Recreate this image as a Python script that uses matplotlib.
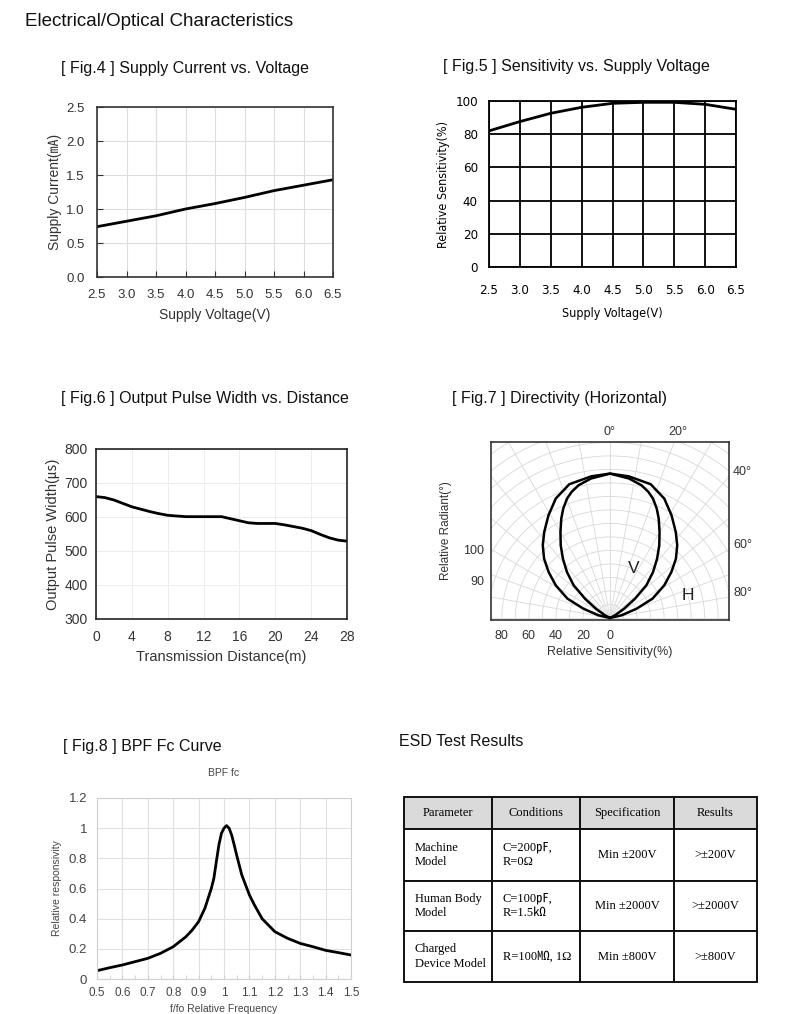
import numpy as np
import matplotlib
matplotlib.use("Agg")
import matplotlib.pyplot as plt
from matplotlib import font_manager as fm

# Fig.4 supply current
volt = [2.5, 3.0, 3.5, 4.0, 4.5, 5.0, 5.5, 6.0, 6.5]
current = [0.74, 0.82, 0.90, 1.00, 1.08, 1.17, 1.27, 1.35, 1.43]

# Fig.5 sensitivity
sens = [82, 87.6, 92.6, 96.2, 98.6, 99.2, 99.2, 98.0, 95.0]

# Fig.6 pulse width
dist = [0, 1, 2, 3, 4, 5, 6, 7, 8, 9, 10, 12, 14, 15, 16, 17, 18, 20, 21, 22, 23, 24, 25, 26, 27, 28]
pulse = [660, 657, 650, 640, 630, 623, 616, 610, 605, 603, 601, 601, 601, 595, 589, 583, 581, 581, 577, 572,
         567, 560, 549, 539, 532, 529]

# Fig.7 directivity (angle from axis in deg, radius)
v_ang = [0, 7.8, 13.3, 16.9, 19.8, 23.1, 26.1, 29.9, 34.1, 38.4, 43.1, 48.0, 52.3, 56.6, 61.9, 90]
v_rad = [106.9, 104.2, 101.0, 97.6, 93.9, 88.1, 81.9, 73.5, 65.0, 56.1, 46.6, 36.2, 23.4, 12.6, 4.2, 0]
h_ang = [0, 7.5, 16.9, 24.4, 30.9, 37.4, 42.7, 48.0, 53.1, 58.9, 65.5, 70.7, 77.1, 90]
h_rad = [106.9, 105.8, 103.5, 97.1, 88.6, 80.1, 73.3, 65.6, 56.8, 46.9, 34.6, 20.9, 8.9, 0]

# Fig.8 BPF
freq = [0.5, 0.55, 0.6, 0.65, 0.7, 0.75, 0.8, 0.85, 0.875, 0.9, 0.925, 0.95, 0.96, 0.97, 0.98, 0.99, 1.0,
        1.01, 1.02, 1.03, 1.04, 1.05, 1.07, 1.1, 1.12, 1.15, 1.2, 1.25, 1.3, 1.35, 1.4, 1.45, 1.5]
resp = [0.055, 0.075, 0.093, 0.115, 0.137, 0.17, 0.214, 0.28, 0.325, 0.38, 0.47, 0.60, 0.667, 0.78, 0.89,
        0.966, 1.0, 1.017, 1.0, 0.955, 0.89, 0.82, 0.69, 0.557, 0.49, 0.40, 0.314, 0.27, 0.236, 0.214, 0.19,
        0.175, 0.159]

# ESD table
esd_cols = ["Parameter", "Conditions", "Specification", "Results"]
esd_rows = [["Machine\nModel", "C=200㎊,\nR=0Ω", "Min ±200V", ">±200V"],
            ["Human Body\nModel", "C=100㎊,\nR=1.5㏀", "Min ±2000V", ">±2000V"],
            ["Charged\nDevice Model", "R=100㏁, 1Ω", "Min ±800V", ">±800V"]]

plt.rcParams['font.family'] = ['Liberation Sans', 'Noto Sans CJK KR', 'DejaVu Sans']
W, H = 800, 1014
fig = plt.figure(figsize=(W / 100, H / 100), dpi=100)

# narrow font for fig.5 if one is around
narrow_path = None
for fam in ['Liberation Sans Narrow', 'DejaVu Sans']:
    try:
        p = fm.findfont(fm.FontProperties(family=fam, stretch='condensed'), fallback_to_default=False)
    except Exception:
        continue
    if 'Narrow' in p or 'Condensed' in p:
        narrow_path = p
        break


def nfont(size):
    if narrow_path:
        return fm.FontProperties(fname=narrow_path, size=size)
    return fm.FontProperties(family='Liberation Sans', size=size - 0.5)


def box(l, t, r, b):
    return [l / W, 1 - b / H, (r - l) / W, (b - t) / H]


def ftext(x, y, s, **kw):
    fig.text(x / W, 1 - y / H, s, va='center', **kw)


dark = '#333333'
ftext(25, 22, "Electrical/Optical Characteristics", fontsize=13.5, color='#111111')
ftext(61, 69, "[ Fig.4 ] Supply Current vs. Voltage", fontsize=11.5, color='#111111')
ftext(443, 66, "[ Fig.5 ] Sensitivity vs. Supply Voltage", fontsize=11.5, color='#111111')
ftext(61, 398, "[ Fig.6 ] Output Pulse Width vs. Distance", fontsize=11.5, color='#111111')
ftext(452, 398, "[ Fig.7 ] Directivity (Horizontal)", fontsize=11.5, color='#111111')
ftext(63, 746, "[ Fig.8 ] BPF Fc Curve", fontsize=11.5, color='#111111')
ftext(399, 742, "ESD Test Results", fontsize=11.5, color='#111111')

# ---- Fig.4
ax4 = fig.add_axes(box(97, 107, 333, 277))
ax4.plot(volt, current, color='k', lw=2)
ax4.set_xlim(2.5, 6.5)
ax4.set_ylim(0, 2.5)
ax4.set_xticks(np.arange(2.5, 6.51, 0.5))
ax4.set_yticks(np.arange(0, 2.51, 0.5))
ax4.set_xticklabels(["%.1f" % v for v in np.arange(2.5, 6.51, 0.5)])
ax4.set_yticklabels(["%.1f" % v for v in np.arange(0, 2.51, 0.5)])
ax4.grid(color='#dddddd', lw=0.8)
ax4.tick_params(direction='in', length=4, color=dark, labelcolor=dark, labelsize=9.5)
ax4.tick_params(axis='y', pad=9)
ax4.tick_params(axis='x', pad=9)
for s in ax4.spines.values():
    s.set_color(dark)
    s.set_linewidth(1.2)
ax4.set_xlabel("Supply Voltage(V)", fontsize=10, color=dark, labelpad=5)
ax4.set_ylabel("Supply Current(㎃)", fontsize=10, color=dark, labelpad=3)

# ---- Fig.5
ax5 = fig.add_axes(box(489, 101, 736, 267))
ax5.plot(volt, sens, color='k', lw=2)
ax5.set_xlim(2.5, 6.5)
ax5.set_ylim(0, 100)
ax5.set_xticks(np.arange(2.5, 6.51, 0.5))
ax5.set_yticks(np.arange(0, 101, 20))
ax5.set_xticklabels(["%.1f" % v for v in np.arange(2.5, 6.51, 0.5)], fontproperties=nfont(9.5))
ax5.set_yticklabels([str(v) for v in range(0, 101, 20)], fontproperties=nfont(9.5))
ax5.grid(color='k', lw=1.3)
ax5.tick_params(length=0, labelcolor='k')
ax5.tick_params(axis='x', pad=12.5)
ax5.tick_params(axis='y', pad=8)
for s in ax5.spines.values():
    s.set_linewidth(1.3)
ax5.set_xlabel("Supply Voltage(V)", fontproperties=nfont(9), labelpad=7)
ax5.set_ylabel("Relative Sensitivity(%)", fontproperties=nfont(9), labelpad=4)

# ---- Fig.6
ax6 = fig.add_axes(box(96, 449, 347, 619))
ax6.plot(dist, pulse, color='k', lw=2)
ax6.set_xlim(0, 28)
ax6.set_ylim(300, 800)
ax6.set_xticks(range(0, 29, 4))
ax6.set_yticks(range(300, 801, 100))
ax6.grid(color='#ececec', lw=0.7)
ax6.tick_params(length=0, labelsize=10, labelcolor=dark)
ax6.tick_params(axis='x', pad=8)
ax6.tick_params(axis='y', pad=6)
for s in ax6.spines.values():
    s.set_color('#222222')
    s.set_linewidth(1.2)
ax6.set_xlabel("Transmission Distance(m)", fontsize=10.5, color=dark, labelpad=4)
ax6.set_ylabel("Output Pulse Width(㎲)", fontsize=10.5, color=dark, labelpad=3)

# ---- Fig.7
ax7 = fig.add_axes(box(491, 442, 729, 620))
ax7.set_xlim(-88, 88)
ax7.set_ylim(-1.5, 130.3)
t = np.linspace(-np.pi / 2, np.pi / 2, 181)
for r in np.arange(10, 170, 10):
    ax7.plot(r * np.sin(t), r * np.cos(t), color='#d8d8d8', lw=0.6)
for a in np.radians(np.arange(-90, 91, 10)):
    ax7.plot([0, 220 * np.sin(a)], [0, 220 * np.cos(a)], color='#d8d8d8', lw=0.6)
for ang, rad in [(v_ang, v_rad), (h_ang, h_rad)]:
    a = np.radians(np.concatenate([-np.array(ang[::-1]), np.array(ang[1:])]))
    r = np.concatenate([np.array(rad[::-1]), np.array(rad[1:])])
    ax7.plot(r * np.sin(a), r * np.cos(a), color='k', lw=1.8)
ax7.text(17.8, 36.3, "V", fontsize=12.5, color='#222222', ha='center', va='center')
ax7.text(57.8, 16.3, "H", fontsize=12.5, color='#222222', ha='center', va='center')
ax7.set_xticks([-80, -60, -40, -20, 0])
ax7.set_xticklabels(['80', '60', '40', '20', '0'])
ax7.set_yticks([27.4, 50.4])
ax7.set_yticklabels(['90', '100'])
ax7.tick_params(length=0, labelsize=9, labelcolor=dark)
ax7.tick_params(axis='x', pad=7)
ax7.tick_params(axis='y', pad=5)
for s in ax7.spines.values():
    s.set_color('#333333')
    s.set_linewidth(1.2)
ax7.set_xlabel("Relative Sensitivity(%)", fontsize=9, color=dark, labelpad=3)
ax7.set_ylabel("Relative Radiant(°)", fontsize=8.5, color=dark, labelpad=8)
for d in [0, 20]:
    ax7.text(137 * np.tan(np.radians(d)), 138, "%d°" % d, fontsize=9, color=dark,
             ha='center', va='center', clip_on=False)
for d in [40, 60, 80]:
    ax7.text(98, 88 / np.tan(np.radians(d)) + 3, "%d°" % d, fontsize=9, color=dark,
             ha='center', va='center', clip_on=False)

# ---- Fig.8
ax8 = fig.add_axes(box(97, 798, 351, 979))
ax8.plot(freq, resp, color='k', lw=2)
ax8.set_xlim(0.5, 1.5)
ax8.set_ylim(0, 1.2)
ax8.set_xticks(np.arange(0.5, 1.51, 0.1))
ax8.set_xticklabels(['%g' % round(v, 1) for v in np.arange(0.5, 1.51, 0.1)])
ax8.set_xticks(np.arange(0.5, 1.51, 0.05), minor=True)
ax8.set_yticks(np.arange(0, 1.21, 0.2))
ax8.set_yticklabels(['%g' % round(v, 1) for v in np.arange(0, 1.21, 0.2)])
ax8.grid(color='#e0e0e0', lw=0.8)
ax8.tick_params(length=0, labelcolor='#444444')
ax8.tick_params(axis='x', which='both', length=3, color='#cccccc', direction='in', labelsize=8.5)
ax8.tick_params(axis='y', labelsize=9.5)
ax8.tick_params(axis='x', pad=6)
ax8.tick_params(axis='y', pad=7)
for k, s in ax8.spines.items():
    s.set_color('#d0d0d0')
    s.set_linewidth(0.8)
ax8.set_xlabel("f/fo Relative Frequency", fontsize=7.5, color='#444444', labelpad=3)
ax8.set_ylabel("Relative responsivity", fontsize=7.5, color='#444444', labelpad=5)
ax8.set_title("BPF fc", fontsize=7.5, color='#444444', pad=15.5)

# ---- ESD table
axt = fig.add_axes(box(404, 797, 757, 982))
axt.axis('off')
tab = axt.table(cellText=esd_rows, colLabels=esd_cols, cellLoc='left', colLoc='center',
                colWidths=[88, 88, 94, 83], bbox=[0, 0, 1, 1])
tab.auto_set_font_size(False)
row_h = [32, 52, 50, 51]
serif = ['Liberation Serif', 'Noto Sans CJK KR']
for (r, c), cell in tab.get_celld().items():
    cell.set_height(row_h[r])
    cell.set_linewidth(1.4)
    cell.set_edgecolor('#111111')
    txt = cell.get_text()
    txt.set_fontfamily(serif)
    txt.set_fontsize(9)
    txt.set_linespacing(1.25)
    if r == 0:
        cell.set_facecolor('#dadada')
    elif c >= 2:
        cell._loc = 'center'
        txt.set_ha('center')
    else:
        cell.PAD = 0.12

fig.savefig('out.png', dpi=100)
